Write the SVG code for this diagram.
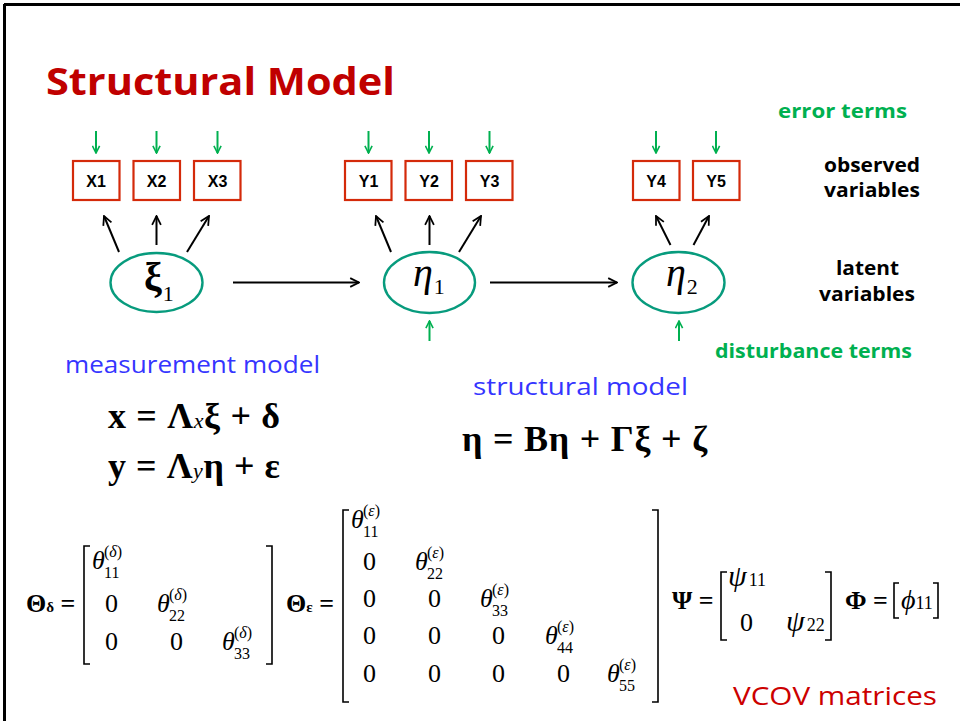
<svg xmlns="http://www.w3.org/2000/svg" width="960" height="721" viewBox="0 0 960 721">
<style>
.box{fill:#fff;stroke:#d42a0a;stroke-width:2.2}
.bl{font-family:"Liberation Sans",Arial,sans-serif;font-weight:bold;font-size:16px;fill:#000;text-anchor:middle}
.ell{fill:#fff;stroke:#079b7d;stroke-width:2.4}
.comic{font-family:"Comic Sans MS","Open Sans",sans-serif}
.side{font-family:"Comic Sans MS","Open Sans",sans-serif;font-weight:bold;font-size:20px}
.m{font-family:"Liberation Serif","Times New Roman",serif;fill:#000}
.eq{font-family:"Liberation Serif","Times New Roman",serif;font-weight:bold;font-size:36px;fill:#000}
.mx{font-family:"Liberation Serif","Times New Roman",serif;font-size:26px;fill:#000}
.sm{font-size:16px;font-style:normal}
.it{font-style:italic}
.br{fill:none;stroke:#000;stroke-width:1.6}
.blk{stroke:#000;stroke-width:2;fill:none}
.grn{stroke:#00b050;stroke-width:2;fill:none}
</style>
<defs>
<marker id="ab" viewBox="0 0 10 10" refX="9" refY="5" markerWidth="5.5" markerHeight="5.5" orient="auto" markerUnits="strokeWidth">
<path d="M1,1 L9,5 L1,9" fill="none" stroke="#000" stroke-width="1.6"/>
</marker>
<marker id="ag" viewBox="0 0 10 10" refX="9" refY="5" markerWidth="4.5" markerHeight="4.5" orient="auto" markerUnits="strokeWidth">
<path d="M1,1 L9,5 L1,9" fill="none" stroke="#00b050" stroke-width="1.8"/>
</marker>
</defs>
<rect width="960" height="721" fill="#fff"/>
<line x1="4" y1="4.5" x2="960" y2="4.5" stroke="#000" stroke-width="3"/>
<line x1="4.5" y1="4" x2="4.5" y2="721" stroke="#000" stroke-width="3"/>

<text x="46" y="95" class="comic" font-weight="bold" font-size="37" fill="#c00000" textLength="349" lengthAdjust="spacingAndGlyphs">Structural Model</text>

<g id="connectors">
<line class="grn" x1="96" y1="131" x2="96" y2="153" marker-end="url(#ag)"/>
<line class="grn" x1="156.5" y1="131" x2="156.5" y2="153" marker-end="url(#ag)"/>
<line class="grn" x1="217.5" y1="131" x2="217.5" y2="153" marker-end="url(#ag)"/>
<line class="grn" x1="368.5" y1="131" x2="368.5" y2="153" marker-end="url(#ag)"/>
<line class="grn" x1="429" y1="131" x2="429" y2="153" marker-end="url(#ag)"/>
<line class="grn" x1="489.5" y1="131" x2="489.5" y2="153" marker-end="url(#ag)"/>
<line class="grn" x1="656" y1="131" x2="656" y2="153" marker-end="url(#ag)"/>
<line class="grn" x1="716" y1="131" x2="716" y2="153" marker-end="url(#ag)"/>
<line class="blk" x1="119" y1="252" x2="104" y2="216" marker-end="url(#ab)"/>
<line class="blk" x1="156.5" y1="245" x2="156.5" y2="216" marker-end="url(#ab)"/>
<line class="blk" x1="187" y1="252" x2="209" y2="216" marker-end="url(#ab)"/>
<line class="blk" x1="391" y1="252" x2="376" y2="216" marker-end="url(#ab)"/>
<line class="blk" x1="429.5" y1="245" x2="429.5" y2="216" marker-end="url(#ab)"/>
<line class="blk" x1="459" y1="252" x2="481" y2="216" marker-end="url(#ab)"/>
<line class="blk" x1="670.5" y1="245" x2="656" y2="216" marker-end="url(#ab)"/>
<line class="blk" x1="693.5" y1="245" x2="709" y2="216" marker-end="url(#ab)"/>
<line class="blk" x1="233" y1="282.5" x2="359" y2="282.5" marker-end="url(#ab)"/>
<line class="blk" x1="490" y1="282.5" x2="617" y2="282.5" marker-end="url(#ab)"/>
<line class="grn" x1="429.5" y1="341" x2="429.5" y2="321" marker-end="url(#ag)"/>
<line class="grn" x1="679" y1="341" x2="679" y2="321" marker-end="url(#ag)"/>
</g>

<g id="x1"><rect class="box" x="73" y="161" width="46.5" height="39"/><text class="bl" x="96" y="186.5">X1</text></g>
<g id="x2"><rect class="box" x="133.5" y="161" width="46.5" height="39"/><text class="bl" x="156.5" y="186.5">X2</text></g>
<g id="x3"><rect class="box" x="194" y="161" width="46.5" height="39"/><text class="bl" x="217.5" y="186.5">X3</text></g>
<g id="y1"><rect class="box" x="345" y="161" width="46.5" height="39"/><text class="bl" x="368.5" y="186.5">Y1</text></g>
<g id="y2"><rect class="box" x="405.5" y="161" width="46.5" height="39"/><text class="bl" x="429" y="186.5">Y2</text></g>
<g id="y3"><rect class="box" x="466" y="161" width="46.5" height="39"/><text class="bl" x="489.5" y="186.5">Y3</text></g>
<g id="y4"><rect class="box" x="633" y="161" width="46.5" height="39"/><text class="bl" x="656" y="186.5">Y4</text></g>
<g id="y5"><rect class="box" x="693" y="161" width="46.5" height="39"/><text class="bl" x="716" y="186.5">Y5</text></g>

<g id="xi1"><ellipse class="ell" cx="156.5" cy="282.5" rx="46" ry="29.5"/>
<text class="m" x="144" y="290" font-size="40" font-weight="bold">ξ<tspan font-size="22" font-weight="normal" dx="1" dy="11">1</tspan></text></g>
<g id="eta1"><ellipse class="ell" cx="429.5" cy="282.5" rx="45.5" ry="30.5"/>
<text class="m" x="413" y="286" font-size="40" font-style="italic">η<tspan font-size="22" font-style="normal" dx="1" dy="8">1</tspan></text></g>
<g id="eta2"><ellipse class="ell" cx="678.5" cy="282.5" rx="46" ry="30.5"/>
<text class="m" x="666" y="286" font-size="40" font-style="italic">η<tspan font-size="22" font-style="normal" dx="1" dy="8">2</tspan></text></g>

<g id="side-labels">
<text class="side" x="778" y="118" fill="#00b050" textLength="129" lengthAdjust="spacingAndGlyphs">error terms</text>
<text class="side" x="824" y="172" fill="#000" textLength="96" lengthAdjust="spacingAndGlyphs">observed</text>
<text class="side" x="824" y="197" fill="#000" textLength="96" lengthAdjust="spacingAndGlyphs">variables</text>
<text class="side" x="836" y="275" fill="#000" textLength="63" lengthAdjust="spacingAndGlyphs">latent</text>
<text class="side" x="819" y="301" fill="#000" textLength="96" lengthAdjust="spacingAndGlyphs">variables</text>
<text class="side" x="715" y="358" fill="#00b050" textLength="197" lengthAdjust="spacingAndGlyphs">disturbance terms</text>
</g>

<text class="comic" x="65" y="373" font-size="24" fill="#3535ff" textLength="255" lengthAdjust="spacingAndGlyphs">measurement model</text>
<text class="comic" x="473" y="395" font-size="24" fill="#3535ff" textLength="215" lengthAdjust="spacingAndGlyphs">structural model</text>

<text class="eq" x="108" y="428" textLength="172" lengthAdjust="spacing">x = Λ<tspan font-size="22" font-weight="normal" font-style="italic">x</tspan>ξ + δ</text>
<text class="eq" x="108" y="478" textLength="172" lengthAdjust="spacing">y = Λ<tspan font-size="22" font-weight="normal" font-style="italic">y</tspan>η + ε</text>
<text class="eq" x="462" y="451" font-size="38" textLength="245" lengthAdjust="spacing">η = Bη + Γξ + ζ</text>

<g id="theta-delta">
<text class="mx" x="26" y="612" font-weight="bold">Θ<tspan font-size="15">δ</tspan> =</text>
<path class="br" d="M90,546 H84 V664 H90"/>
<path class="br" d="M266,546 H272 V664 H266"/>
<text class="mx it" x="92" y="569">θ</text><text class="mx sm" x="104" y="557">(<tspan font-style="italic">δ</tspan>)</text><text class="mx sm" x="104" y="578">11</text>
<text class="mx" x="105" y="612">0</text>
<text class="mx it" x="157" y="612">θ</text><text class="mx sm" x="169" y="600">(<tspan font-style="italic">δ</tspan>)</text><text class="mx sm" x="169" y="621">22</text>
<text class="mx" x="105" y="650">0</text><text class="mx" x="170" y="650">0</text>
<text class="mx it" x="222" y="650">θ</text><text class="mx sm" x="234" y="638">(<tspan font-style="italic">δ</tspan>)</text><text class="mx sm" x="234" y="659">33</text>
</g>

<g id="theta-eps">
<text class="mx" x="286" y="612" font-weight="bold">Θ<tspan font-size="15">ε</tspan> =</text>
<path class="br" d="M349,510 H343 V702 H349"/>
<path class="br" d="M652,510 H658 V702 H652"/>
<text class="mx it" x="351" y="528">θ</text><text class="mx sm" x="363" y="516">(<tspan font-style="italic">ε</tspan>)</text><text class="mx sm" x="363" y="537">11</text>
<text class="mx" x="363" y="570">0</text>
<text class="mx it" x="415" y="570">θ</text><text class="mx sm" x="427" y="558">(<tspan font-style="italic">ε</tspan>)</text><text class="mx sm" x="427" y="579">22</text>
<text class="mx" x="363" y="607">0</text><text class="mx" x="428" y="607">0</text>
<text class="mx it" x="480" y="607">θ</text><text class="mx sm" x="492" y="595">(<tspan font-style="italic">ε</tspan>)</text><text class="mx sm" x="492" y="616">33</text>
<text class="mx" x="363" y="644">0</text><text class="mx" x="428" y="644">0</text><text class="mx" x="492" y="644">0</text>
<text class="mx it" x="545" y="644">θ</text><text class="mx sm" x="557" y="632">(<tspan font-style="italic">ε</tspan>)</text><text class="mx sm" x="557" y="653">44</text>
<text class="mx" x="363" y="682">0</text><text class="mx" x="428" y="682">0</text><text class="mx" x="492" y="682">0</text><text class="mx" x="557" y="682">0</text>
<text class="mx it" x="607" y="682">θ</text><text class="mx sm" x="619" y="670">(<tspan font-style="italic">ε</tspan>)</text><text class="mx sm" x="619" y="691">55</text>
</g>

<g id="psi">
<text class="mx" x="672" y="609" font-weight="bold">Ψ =</text>
<path class="br" d="M727,572 H721 V640 H727"/>
<path class="br" d="M825,572 H831 V640 H825"/>
<text class="mx" x="728" y="586"><tspan font-style="italic" font-size="30">ψ</tspan><tspan font-size="18" dx="2">11</tspan></text>
<text class="mx" x="740" y="631">0</text>
<text class="mx" x="786" y="631"><tspan font-style="italic" font-size="30">ψ</tspan><tspan font-size="18" dx="2">22</tspan></text>
</g>

<g id="phi">
<text class="mx" x="845" y="609" font-weight="bold">Φ =</text>
<path class="br" d="M899,583 H894 V618 H899"/>
<path class="br" d="M933,583 H938 V618 H933"/>
<text class="mx" x="901" y="609"><tspan font-style="italic" font-size="28">ϕ</tspan><tspan font-size="18">11</tspan></text>
</g>

<text class="comic" x="733" y="705" font-size="26" fill="#cc0000" textLength="204" lengthAdjust="spacingAndGlyphs">VCOV matrices</text>
</svg>
